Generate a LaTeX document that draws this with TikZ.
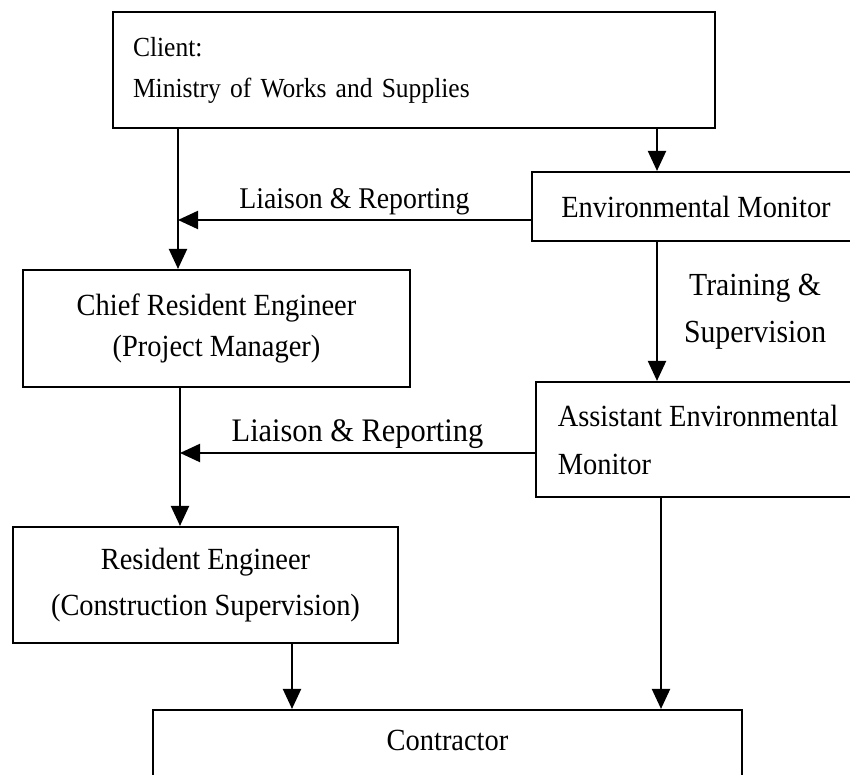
\documentclass[tikz,border=0pt]{standalone}
\usepackage{fontspec}
\setmainfont{Liberation Serif}[FakeStretch=0.925]
\usetikzlibrary{arrows.meta}

\begin{document}
\begin{tikzpicture}[x=1cm,y=1cm,>={Triangle[length=0.4cm,width=0.36cm]},
  box/.style={draw,line width=1.2pt,inner sep=0pt,font=\fontsize{17.5}{22.8}\selectfont},
  flow/.style={->,line width=1.2pt},
  lbl/.style={inner sep=2pt}]
\useasboundingbox (0,0) rectangle (17,15.5);

% Left column: client and engineers
\node[box,minimum width=12.04cm,minimum height=2.32cm,text width=11.24cm,align=left,
      font=\fontsize{15.7}{23.3}\selectfont] (client) at (8.28,14.1)
     {Client:\\Ministry of Works and Supplies};
\node[box,minimum width=7.74cm,minimum height=2.34cm,align=center] (cre) at (4.33,8.93)
     {Chief Resident Engineer\\(Project Manager)};
\node[box,minimum width=7.7cm,minimum height=2.32cm,align=center] (re) at (4.11,3.8)
     {Resident Engineer\\[3pt](Construction Supervision)};

% Right column: monitors
\node[box,minimum width=6.56cm,minimum height=1.38cm] (em) at (13.92,11.37)
     {Environmental Monitor};
\node[box,minimum width=6.48cm,minimum height=2.3cm,align=left] (aem) at (13.96,6.71)
     {Assistant Environmental\\[4.5pt]Monitor};

% Contractor at the bottom, cut by the page edge
\node[box,minimum width=11.78cm,minimum height=1.6cm,text height=0.5cm,text depth=0.46cm] (contr) at (8.95,0.5)
     {Contractor};

% Junctions and arrow ends
\coordinate (j1) at (3.56,11.1);
\coordinate (j2) at (3.6,6.44);
\coordinate (emin) at ([xshift=-0.78cm]em.north);
\coordinate (rein) at ([xshift=1.73cm]re.south);
\coordinate (aemout) at ([xshift=-0.74cm]aem.south);

% Reporting lines
\draw[flow] (client.south -| j1) -- (cre.north -| j1);
\draw[flow] (client.south -| emin) -- (emin);
\draw[flow] (em.west |- j1) -- (j1)
  node[midway,above,lbl,font=\fontsize{17.1}{20}\selectfont] (liaisona) {Liaison \& Reporting};
\draw[flow] (em.south -| emin) -- (aem.north -| emin)
  node[midway,right=0.45cm,lbl,align=center,font=\fontsize{18.3}{26.7}\selectfont] (train) {Training \&\\Supervision};
\draw[flow] (cre.south -| j2) -- (re.north -| j2);
\draw[flow] (aem.west |- j2) -- (j2)
  node[midway,above,lbl,font=\fontsize{18.7}{22}\selectfont] (liaisonb) {Liaison \& Reporting};
\draw[flow] (rein) -- (contr.north -| rein);
\draw[flow] (aemout) -- (contr.north -| aemout);
\end{tikzpicture}
\end{document}
